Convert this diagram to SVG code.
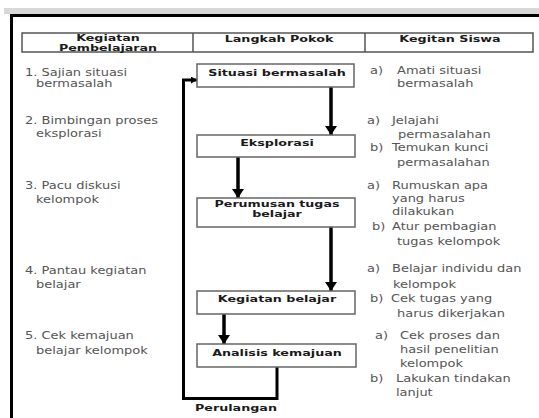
<svg xmlns="http://www.w3.org/2000/svg" width="539" height="418" viewBox="0 0 539 418">
<style>
.t{font-family:"DejaVu Sans",Verdana,sans-serif;font-size:10px;fill:#555}
.b{font-family:"DejaVu Sans",Verdana,sans-serif;font-size:9.5px;font-weight:bold;fill:#1a1a1a}
.s{font-size:8.8px}
.m{text-anchor:middle}
.box{fill:#fff;stroke:#666;stroke-width:1.5}
.arr{fill:none;stroke:#000;stroke-width:3.5}
.loop{fill:none;stroke:#000;stroke-width:3}
</style>
<defs>
<marker id="ah" markerUnits="userSpaceOnUse" markerWidth="14" markerHeight="12" refX="9" refY="6" orient="auto">
<path d="M0,0 L9,6 L0,12 Z" fill="#000"/>
</marker>
<marker id="ahs" markerUnits="userSpaceOnUse" markerWidth="8" markerHeight="8" refX="6" refY="3.5" orient="auto">
<path d="M0,0 L6,3.5 L0,7 Z" fill="#000"/>
</marker>
</defs>
<rect x="0" y="0" width="539" height="418" fill="#fff"/>
<rect x="4" y="8" width="535" height="6" fill="#d8d8d8"/>
<g id="frame">
<line x1="10" y1="15.5" x2="539" y2="15.5" stroke="#000" stroke-width="3"/>
<line x1="11.5" y1="14" x2="11.5" y2="418" stroke="#000" stroke-width="3"/>
</g>
<g id="header">
<rect x="22" y="33" width="511" height="19" fill="#fff" stroke="#555" stroke-width="1.5"/>
<line x1="193" y1="33" x2="193" y2="52" stroke="#555" stroke-width="1.5"/>
<line x1="365" y1="33" x2="365" y2="52" stroke="#555" stroke-width="1.5"/>
<text class="b s m" transform="translate(108,41) scale(1.44,1)">Kegiatan</text>
<text class="b s m" transform="translate(108,51) scale(1.44,1)">Pembelajaran</text>
<text class="b m" transform="translate(279,42) scale(1.34,1)">Langkah Pokok</text>
<text class="b m" transform="translate(450,42) scale(1.34,1)">Kegitan Siswa</text>
</g>
<g id="connectors">
<line class="arr" x1="331" y1="87" x2="331" y2="135" marker-end="url(#ah)"/>
<line class="arr" x1="238" y1="157" x2="238" y2="198" marker-end="url(#ah)"/>
<line class="arr" x1="331" y1="227" x2="331" y2="291" marker-end="url(#ah)"/>
<line class="arr" x1="224" y1="314" x2="224" y2="344" marker-end="url(#ah)"/>
<path class="loop" d="M277,367 L277,398.5 L183.5,398.5 L183.5,80 L197,80" marker-end="url(#ahs)"/>
</g>
<g id="n1">
<rect class="box" x="197" y="64" width="157" height="23"/>
<text class="b m" transform="translate(277,76) scale(1.34,1)">Situasi bermasalah</text>
</g>
<g id="n2">
<rect class="box" x="197" y="135" width="158" height="22"/>
<text class="b m" transform="translate(277,146) scale(1.34,1)">Eksplorasi</text>
</g>
<g id="n3">
<rect class="box" x="197" y="198" width="158" height="29"/>
<text class="b s m" transform="translate(277,207) scale(1.44,1)">Perumusan tugas</text>
<text class="b s m" transform="translate(277,217) scale(1.44,1)">belajar</text>
</g>
<g id="n4">
<rect class="box" x="197" y="291" width="158" height="23"/>
<text class="b m" transform="translate(277,302) scale(1.34,1)">Kegiatan belajar</text>
</g>
<g id="n5">
<rect class="box" x="197" y="344" width="159" height="23"/>
<text class="b m" transform="translate(277,356) scale(1.34,1)">Analisis kemajuan</text>
</g>
<g id="loop-label">
<text class="b" transform="translate(195,411) scale(1.34,1)">Perulangan</text>
</g>
<g id="kegiatan-pembelajaran">
<text class="t" transform="translate(25,76) scale(1.3,1)">1. Sajian situasi</text>
<text class="t" transform="translate(36,87) scale(1.3,1)">bermasalah</text>
<text class="t" transform="translate(25,124) scale(1.3,1)">2. Bimbingan proses</text>
<text class="t" transform="translate(36,137) scale(1.3,1)">eksplorasi</text>
<text class="t" transform="translate(25,189) scale(1.3,1)">3. Pacu diskusi</text>
<text class="t" transform="translate(36,203) scale(1.3,1)">kelompok</text>
<text class="t" transform="translate(25,274) scale(1.3,1)">4. Pantau kegiatan</text>
<text class="t" transform="translate(36,288) scale(1.3,1)">belajar</text>
<text class="t" transform="translate(25,339) scale(1.3,1)">5. Cek kemajuan</text>
<text class="t" transform="translate(36,354) scale(1.3,1)">belajar kelompok</text>
</g>
<g id="kegiatan-siswa">
<text class="t" transform="translate(370,74) scale(1.3,1)">a)</text>
<text class="t" transform="translate(397,74) scale(1.3,1)">Amati situasi</text>
<text class="t" transform="translate(397,87) scale(1.3,1)">bermasalah</text>
<text class="t" transform="translate(367,124) scale(1.3,1)">a)</text>
<text class="t" transform="translate(392,124) scale(1.3,1)">Jelajahi</text>
<text class="t" transform="translate(398,138) scale(1.3,1)">permasalahan</text>
<text class="t" transform="translate(370,151) scale(1.3,1)">b)</text>
<text class="t" transform="translate(392,151) scale(1.3,1)">Temukan kunci</text>
<text class="t" transform="translate(397,166) scale(1.3,1)">permasalahan</text>
<text class="t" transform="translate(367,189) scale(1.3,1)">a)</text>
<text class="t" transform="translate(392,189) scale(1.3,1)">Rumuskan apa</text>
<text class="t" transform="translate(392,202) scale(1.3,1)">yang harus</text>
<text class="t" transform="translate(392,215) scale(1.3,1)">dilakukan</text>
<text class="t" transform="translate(372,230) scale(1.3,1)">b)</text>
<text class="t" transform="translate(392,230) scale(1.3,1)">Atur pembagian</text>
<text class="t" transform="translate(397,245) scale(1.3,1)">tugas kelompok</text>
<text class="t" transform="translate(367,272) scale(1.3,1)">a)</text>
<text class="t" transform="translate(392,272) scale(1.3,1)">Belajar individu dan</text>
<text class="t" transform="translate(393,288) scale(1.3,1)">kelompok</text>
<text class="t" transform="translate(370,302) scale(1.3,1)">b)</text>
<text class="t" transform="translate(391,302) scale(1.3,1)">Cek tugas yang</text>
<text class="t" transform="translate(397,317) scale(1.3,1)">harus dikerjakan</text>
<text class="t" transform="translate(375,339) scale(1.3,1)">a)</text>
<text class="t" transform="translate(400,339) scale(1.3,1)">Cek proses dan</text>
<text class="t" transform="translate(400,353) scale(1.3,1)">hasil penelitian</text>
<text class="t" transform="translate(400,367) scale(1.3,1)">kelompok</text>
<text class="t" transform="translate(370,382) scale(1.3,1)">b)</text>
<text class="t" transform="translate(396,382) scale(1.3,1)">Lakukan tindakan</text>
<text class="t" transform="translate(396,396) scale(1.3,1)">lanjut</text>
</g>
</svg>
